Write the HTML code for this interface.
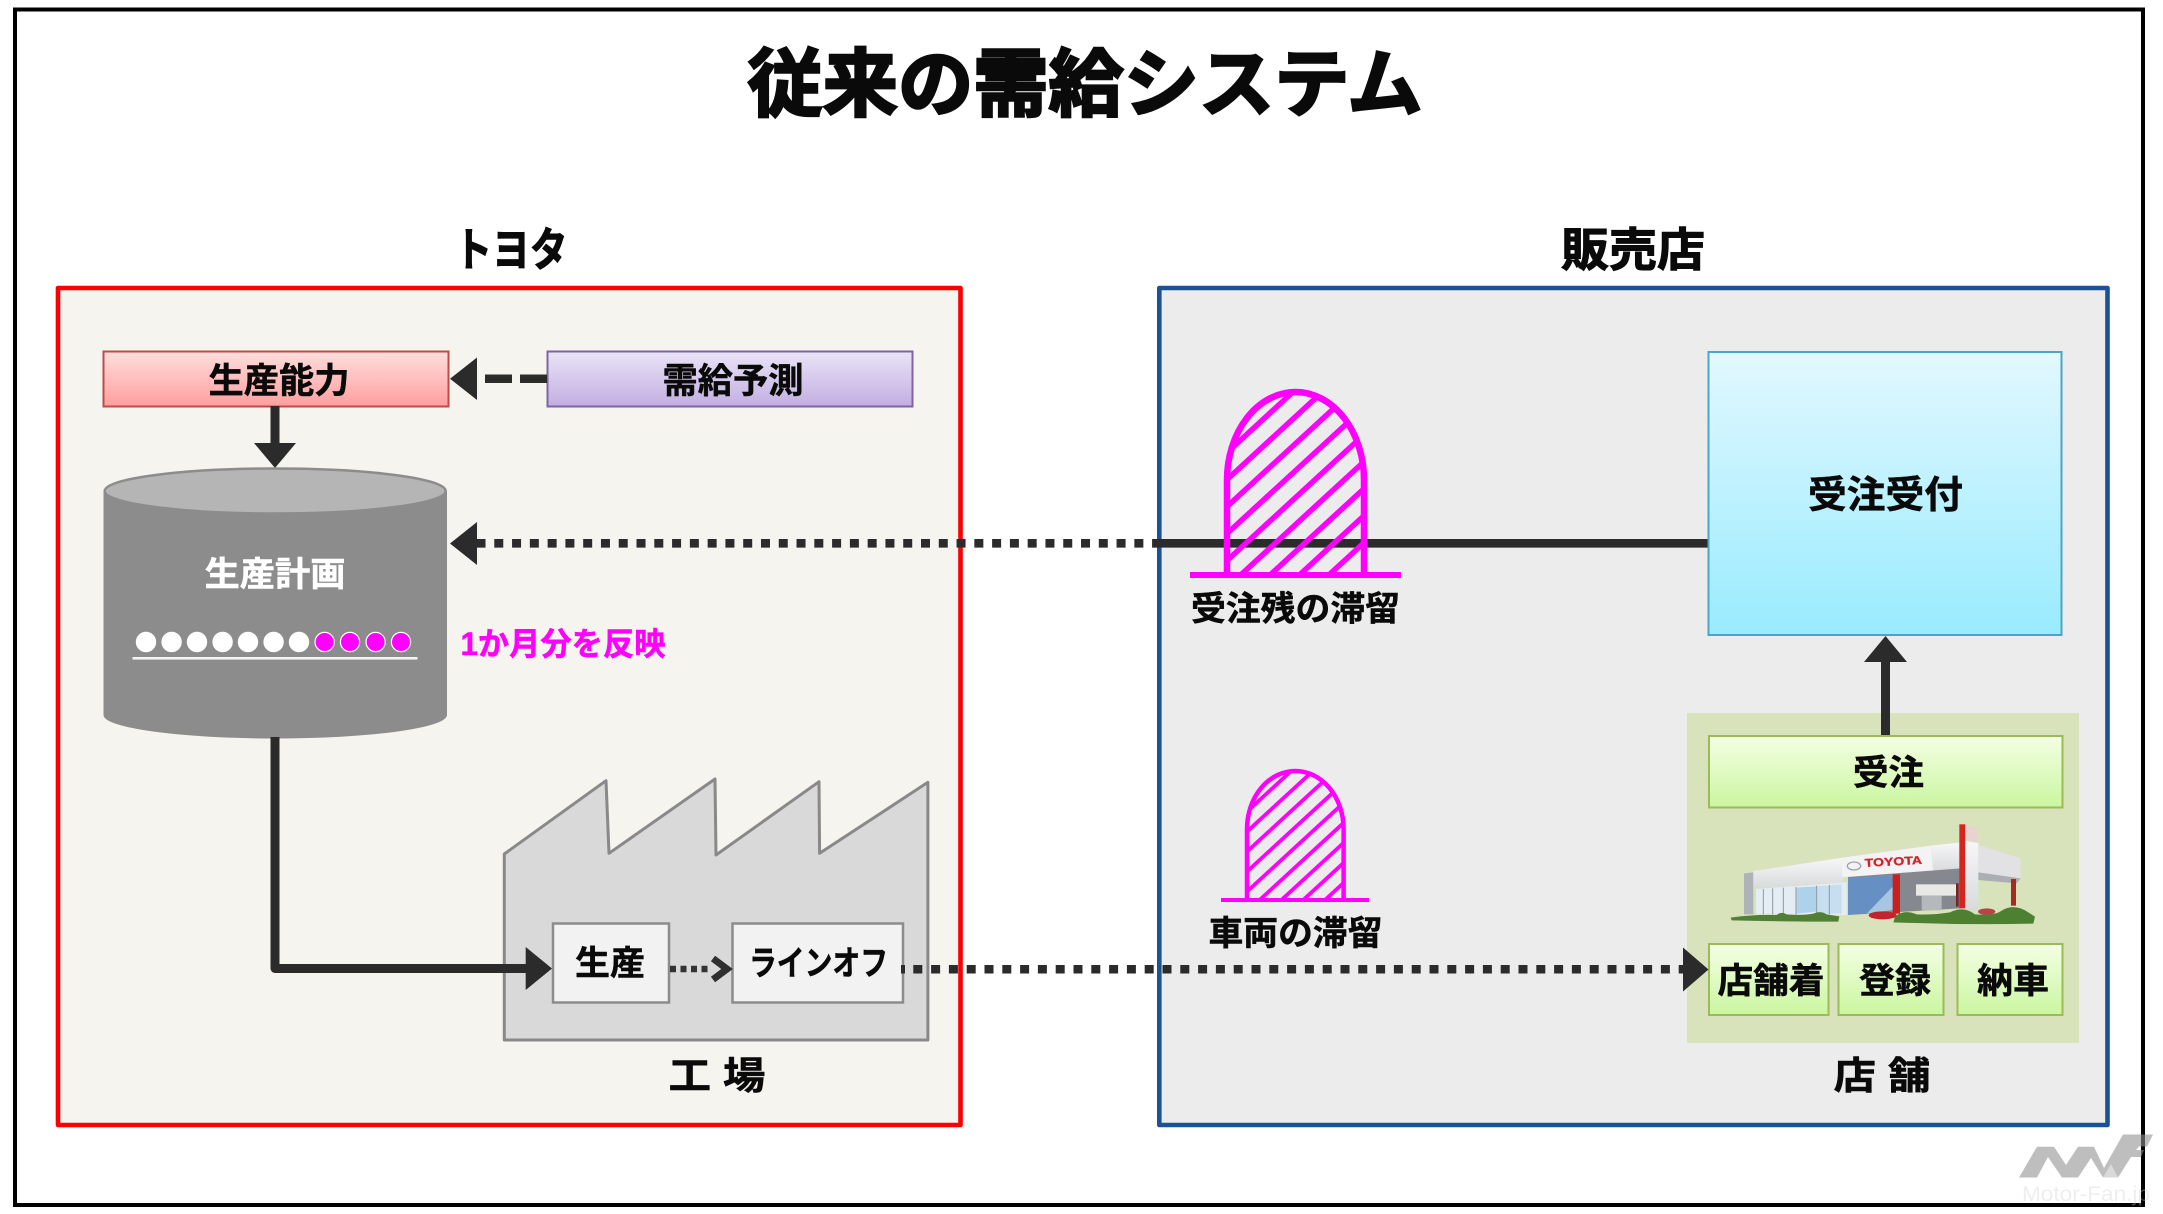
<!DOCTYPE html>
<html lang="ja">
<head>
<meta charset="utf-8">
<title>従来の需給システム</title>
<style>
html,body{margin:0;padding:0;background:#fff;width:2163px;height:1214px;overflow:hidden}
svg{display:block}
text{font-family:"Liberation Sans","Noto Sans CJK JP",sans-serif;font-weight:700;fill:#0a0a0a;text-anchor:middle;stroke:#0a0a0a;stroke-width:.5px}
</style>
</head>
<body>
<svg width="2163" height="1214" viewBox="0 0 2163 1214" xmlns="http://www.w3.org/2000/svg">
<defs>
<linearGradient id="gr" x1="0" y1="0" x2="0" y2="1"><stop offset="0" stop-color="#FFDEDE"/><stop offset="1" stop-color="#FF9E9E"/></linearGradient>
<linearGradient id="gp" x1="0" y1="0" x2="0" y2="1"><stop offset="0" stop-color="#EAE4F6"/><stop offset="1" stop-color="#C2AEE2"/></linearGradient>
<linearGradient id="gb" x1="0" y1="0" x2="0" y2="1"><stop offset="0" stop-color="#E2F8FF"/><stop offset="1" stop-color="#99EBFF"/></linearGradient>
<linearGradient id="gg" x1="0" y1="0" x2="0" y2="1"><stop offset="0" stop-color="#F4FFE4"/><stop offset="1" stop-color="#CBF6A0"/></linearGradient>
<linearGradient id="gw" x1="0" y1="0" x2="0" y2="1"><stop offset="0" stop-color="#F7F7F8"/><stop offset="1" stop-color="#D9DADC"/></linearGradient>
<clipPath id="c1"><path d="M1227,575V480A68.5,88 0 0 1 1364,480V575Z"/></clipPath>
<clipPath id="c2"><path d="M1247,900V829A48.3,58 0 0 1 1343.6,829V900Z"/></clipPath>
</defs>

<rect width="2163" height="1214" fill="#fff"/>
<!-- outer frame -->
<rect x="15" y="9.5" width="2128" height="1195.5" fill="none" stroke="#000" stroke-width="4"/>

<text x="1085" y="110" font-size="74" textLength="675" lengthAdjust="spacingAndGlyphs" style="stroke-width:2.6px">従来の需給システム</text>
<text x="511" y="266" font-size="46" textLength="113" lengthAdjust="spacingAndGlyphs" style="stroke-width:1.1px">トヨタ</text>
<text x="1633" y="266" font-size="46" textLength="144" lengthAdjust="spacingAndGlyphs" style="stroke-width:1.1px">販売店</text>

<!-- panels -->
<rect x="58" y="288" width="902.5" height="837" fill="#F5F4EF" stroke="#FF0000" stroke-width="4.6" stroke-linejoin="round"/>
<rect x="1159.3" y="288" width="948.2" height="837" fill="#ECECEC" stroke="#1B5296" stroke-width="4.6" stroke-linejoin="round"/>

<!-- top boxes -->
<rect x="103.5" y="351.5" width="345" height="55" fill="url(#gr)" stroke="#BE4B48" stroke-width="2"/>
<text x="279" y="393" font-size="35" textLength="141" lengthAdjust="spacingAndGlyphs">生産能力</text>
<rect x="547.5" y="351.5" width="365" height="55" fill="url(#gp)" stroke="#8064A2" stroke-width="2"/>
<text x="733" y="393" font-size="35" textLength="141" lengthAdjust="spacingAndGlyphs">需給予測</text>

<!-- dashed arrow -->
<rect x="485" y="374.5" width="27" height="8.5" fill="#2B2B2B"/>
<rect x="520" y="374.5" width="27" height="8.5" fill="#2B2B2B"/>
<polygon points="450,378.7 477,357.5 477,400" fill="#2B2B2B"/>

<!-- down arrow -->
<rect x="270.5" y="406" width="9" height="40" fill="#2B2B2B"/>
<polygon points="275,468 254,443 296,443" fill="#2B2B2B"/>

<!-- cylinder -->
<path d="M103.5,491 V715 A171.7,23.5 0 0 0 447,715 V491 Z" fill="#8C8C8C"/>
<ellipse cx="275.2" cy="491" rx="170.5" ry="22.5" fill="#B5B5B5" stroke="#8C8C8C" stroke-width="2.5"/>
<text x="275" y="586" font-size="34" textLength="141" lengthAdjust="spacingAndGlyphs" style="fill:#fff;stroke:#fff">生産計画</text>
<g stroke="#fff" stroke-width="1.2">
<g fill="#fff">
<circle cx="146" cy="642" r="9.6"/><circle cx="171.6" cy="642" r="9.6"/><circle cx="197" cy="642" r="9.6"/><circle cx="222.6" cy="642" r="9.6"/><circle cx="248" cy="642" r="9.6"/><circle cx="273.6" cy="642" r="9.6"/><circle cx="299" cy="642" r="9.6"/>
</g>
<g fill="#FF00FF">
<circle cx="324.6" cy="642" r="9.6"/><circle cx="350" cy="642" r="9.6"/><circle cx="375.6" cy="642" r="9.6"/><circle cx="401" cy="642" r="9.6"/>
</g>
</g>
<rect x="132.5" y="657" width="285" height="2.6" fill="#F4F4F4"/>
<text x="563" y="655" font-size="32" textLength="205" lengthAdjust="spacingAndGlyphs" style="fill:#FF00FF;stroke:#FF00FF">1か月分を反映</text>

<!-- factory -->
<polygon points="504.3,854 606,780.7 609,853.3 715,779 716,855 819,781.7 819.6,853.3 927.9,782.3 927.9,1040 504.3,1040" fill="#D9D9D9" stroke="#898989" stroke-width="3" stroke-linejoin="round"/>
<!-- bottom dotted connector -->
<line x1="913.3" y1="969.3" x2="1684" y2="969.3" stroke="#2B2B2B" stroke-width="8.5" stroke-dasharray="9 8.8"/>
<rect x="553" y="923.5" width="116" height="79" fill="#F2F2F2" stroke="#8C8C8C" stroke-width="2.5"/>
<rect x="732.5" y="923.5" width="170.5" height="79" fill="#F2F2F2" stroke="#8C8C8C" stroke-width="2.5"/>
<rect x="901" y="965" width="4" height="8.5" fill="#2B2B2B"/>
<text x="610" y="975" font-size="34" textLength="70" lengthAdjust="spacingAndGlyphs">生産</text>
<text x="818.5" y="975" font-size="34" textLength="139" lengthAdjust="spacingAndGlyphs">ラインオフ</text>
<text x="717" y="1089" font-size="38" textLength="97" lengthAdjust="spacingAndGlyphs">工 場</text>

<!-- solid L connector -->
<path d="M275,737V968.5H530" fill="none" stroke="#2B2B2B" stroke-width="9" stroke-linejoin="round"/>
<polygon points="552,968.5 525.7,947 525.7,990" fill="#2B2B2B"/>

<!-- small dotted arrow -->
<line x1="670" y1="969" x2="712" y2="969" stroke="#333" stroke-width="6.5" stroke-dasharray="6 4.5"/>
<path d="M713,958.5 L727,969 L713,979.5" fill="none" stroke="#2F2F2F" stroke-width="7"/>

<!-- long connector -->
<line x1="476.5" y1="543.3" x2="1153" y2="543.3" stroke="#2B2B2B" stroke-width="8.7" stroke-dasharray="9 8.78"/>
<polygon points="450,543.5 477,522 477,565" fill="#2B2B2B"/>
<line x1="1152.3" y1="543.3" x2="1710" y2="543.3" stroke="#2B2B2B" stroke-width="8.7"/>

<!-- bell 1 -->
<g clip-path="url(#c1)" stroke="#FF00FF" stroke-width="5.5">
<line x1="1220" y1="459" x2="1380" y2="312"/>
<line x1="1220" y1="486" x2="1380" y2="339"/>
<line x1="1220" y1="513" x2="1380" y2="366"/>
<line x1="1220" y1="540" x2="1380" y2="393"/>
<line x1="1220" y1="567" x2="1380" y2="420"/>
<line x1="1220" y1="594" x2="1380" y2="447"/>
<line x1="1220" y1="621" x2="1380" y2="474"/>
<line x1="1220" y1="648" x2="1380" y2="501"/>
<line x1="1220" y1="675" x2="1380" y2="528"/>
</g>
<path d="M1227,575V480A68.5,88 0 0 1 1364,480V575" fill="none" stroke="#FF00FF" stroke-width="6.5"/>
<rect x="1190" y="572" width="211" height="6" fill="#FF00FF"/>
<text x="1295.5" y="620.5" font-size="34" textLength="209" lengthAdjust="spacingAndGlyphs">受注残の滞留</text>

<!-- bell 2 -->
<g clip-path="url(#c2)" stroke="#FF00FF" stroke-width="3.8">
<line x1="1240" y1="818" x2="1350" y2="717"/>
<line x1="1240" y1="838" x2="1350" y2="737"/>
<line x1="1240" y1="858" x2="1350" y2="757"/>
<line x1="1240" y1="878" x2="1350" y2="777"/>
<line x1="1240" y1="898" x2="1350" y2="797"/>
<line x1="1240" y1="918" x2="1350" y2="817"/>
<line x1="1240" y1="938" x2="1350" y2="837"/>
<line x1="1240" y1="958" x2="1350" y2="857"/>
<line x1="1240" y1="978" x2="1350" y2="877"/>
</g>
<path d="M1247,900V829A48.3,58 0 0 1 1343.6,829V900" fill="none" stroke="#FF00FF" stroke-width="4.5"/>
<rect x="1221" y="898" width="148" height="4" fill="#FF00FF"/>
<text x="1295.5" y="945" font-size="34" textLength="174" lengthAdjust="spacingAndGlyphs">車両の滞留</text>

<!-- store area -->
<rect x="1687" y="713" width="392" height="330" fill="#D8E3BC"/>
<rect x="1708.5" y="352" width="353" height="283" fill="url(#gb)" stroke="#4BA5C4" stroke-width="2"/>
<text x="1885.5" y="508" font-size="38" textLength="155" lengthAdjust="spacingAndGlyphs">受注受付</text>
<rect x="1881" y="660" width="9" height="76" fill="#2B2B2B"/>
<polygon points="1885.5,636 1864,662 1907,662" fill="#2B2B2B"/>

<rect x="1709" y="736" width="353.5" height="71.5" fill="url(#gg)" stroke="#9BBB59" stroke-width="2"/>
<text x="1888.5" y="785" font-size="35" textLength="71" lengthAdjust="spacingAndGlyphs">受注</text>
<rect x="1709" y="944" width="119.5" height="71" fill="url(#gg)" stroke="#9BBB59" stroke-width="2"/>
<text x="1771" y="993" font-size="35" textLength="107" lengthAdjust="spacingAndGlyphs">店舗着</text>
<rect x="1838.5" y="944" width="105" height="71" fill="url(#gg)" stroke="#9BBB59" stroke-width="2"/>
<text x="1895" y="993" font-size="35" textLength="72" lengthAdjust="spacingAndGlyphs">登録</text>
<rect x="1957.5" y="944" width="105" height="71" fill="url(#gg)" stroke="#9BBB59" stroke-width="2"/>
<text x="2013" y="993" font-size="35" textLength="72" lengthAdjust="spacingAndGlyphs">納車</text>
<polygon points="1708.5,969.5 1683,947.5 1683,991.5" fill="#2B2B2B"/>
<text x="1882" y="1089" font-size="38" textLength="97" lengthAdjust="spacingAndGlyphs">店 舗</text>

<!-- dealership illustration -->
<g transform="translate(1720,815) scale(.33333)">
<polygon points="72,175 100,172 100,298 72,298" fill="#AEB3B9"/>
<polygon points="100,168 370,128 370,202 100,220" fill="url(#gw)"/>
<polygon points="108,222 380,202 380,300 108,298" fill="#E4EDF3"/>
<polygon points="230,218 290,214 290,290 230,296" fill="#AFD2EC"/>
<polygon points="290,214 365,208 365,296 290,296" fill="#C6DFF0"/>
<g stroke="#8F989E" stroke-width="3">
<line x1="130" y1="222" x2="130" y2="298"/>
<line x1="158" y1="220" x2="158" y2="298"/>
<line x1="190" y1="218" x2="190" y2="298"/>
<line x1="228" y1="216" x2="228" y2="298"/>
<line x1="290" y1="212" x2="290" y2="298"/>
<line x1="328" y1="210" x2="328" y2="298"/>
</g>
<polygon points="367,128 632,92 640,170 367,186" fill="#F3F3F5"/>
<polygon points="632,92 722,82 722,165 640,170" fill="url(#gw)"/>
<polygon points="384,186 722,160 722,280 384,300" fill="#85898F"/>
<polygon points="384,188 518,182 518,285 384,300" fill="#6690C4"/>
<polygon points="440,296 518,215 518,285" fill="#A6C6E2"/>
<rect x="588" y="208" width="124" height="34" fill="#E8E8E6"/>
<rect x="605" y="242" width="60" height="44" fill="#B5B9BC"/>
<rect x="518" y="178" width="22" height="118" fill="#C8201E"/>
<rect x="718" y="28" width="18" height="252" fill="#D4261F"/>
<polygon points="736,28 775,42 775,82 736,72" fill="#E7D3D0"/>
<polygon points="736,78 775,84 775,285 736,285" fill="url(#gw)"/>
<polygon points="775,90 902,130 902,190 775,172" fill="#E2E2E4"/>
<polygon points="775,172 902,190 890,205 775,195" fill="#ABAFB4"/>
<rect x="873" y="192" width="15" height="80" fill="#A52A20"/>
<rect x="708" y="205" width="8" height="70" fill="#7A2320"/>
<ellipse cx="488" cy="301" rx="42" ry="12" fill="#C4232B"/>
<ellipse cx="800" cy="290" rx="26" ry="10" fill="#B4464A"/>
<path d="M32,308Q100,298 170,300Q185,288 200,298Q250,302 280,296Q300,286 320,298L358,304L355,320Q200,320 35,316Z" fill="#527F36"/>
<path d="M520,322L525,305Q550,282 590,298Q640,300 690,292Q730,272 765,298Q820,302 840,290Q880,262 925,292L945,305L940,326Q730,330 520,322Z" fill="#4E8032"/>
<text x="520" y="151" font-size="34" textLength="172" lengthAdjust="spacingAndGlyphs" transform="rotate(-3 520 140)" style="fill:#D2232A;stroke:#D2232A;stroke-width:1px;font-family:'Liberation Sans',sans-serif">TOYOTA</text>
<ellipse cx="402" cy="153" rx="20" ry="12" fill="none" stroke="#9EA2A5" stroke-width="4"/>
</g>

<!-- watermark -->
<polygon points="2019,1177.5 2037,1146.7 2054,1146.7 2066,1165 2078,1146.7 2094,1146.7 2104,1168 2123,1134.5 2153,1134.5 2147,1146.5 2139,1146.5 2136,1150 2144,1150 2141,1157 2131,1157 2118,1177.5 2103,1177.5 2091,1158 2078,1177.5 2062,1177.5 2048,1157 2037,1177.5" fill="#909090" opacity=".59"/>
<polygon points="2103,1177.5 2111,1164 2118,1177.5" fill="#D9D9D9"/>
<text x="2086" y="1201" font-size="21" textLength="128" lengthAdjust="spacingAndGlyphs" opacity=".35" style="fill:#D0D0D0;stroke:none;font-family:'Liberation Sans',sans-serif;font-weight:400">Motor-Fan.jp</text>
</svg>
</body>
</html>
